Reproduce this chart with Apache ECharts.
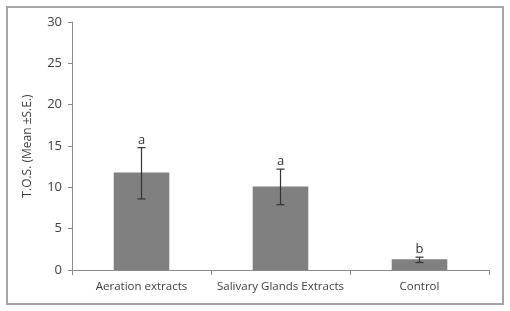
<!DOCTYPE html>
<html>
<head>
<meta charset="utf-8">
<script src="https://cdn.jsdelivr.net/npm/echarts@6/dist/echarts.min.js"></script>
<style>
  html, body { margin: 0; padding: 0; background: #fff; }
  #chart { width: 510px; height: 311px; }
</style>
</head>
<body>
<div id="chart"></div>
<script>
const categories = ['Aeration extracts', 'Salivary Glands Extracts', 'Control'];
const means = [11.8, 10.1, 1.3];
const errLow = [8.6, 7.9, 0.9];
const errHigh = [14.8, 12.2, 1.55];
const letters = ['a', 'a', 'b'];

const chart = echarts.init(document.getElementById('chart'));

const option = {
  backgroundColor: '#fff',
  animation: false,
  textStyle: { fontFamily: 'Open Sans, sans-serif' },
  graphic: [
    {
      type: 'rect',
      shape: { x: 7, y: 7, width: 496, height: 297 },
      style: { fill: 'none', stroke: '#a6a6a6', lineWidth: 2 },
      silent: true,
    },
  ],
  grid: { left: 72, right: 21, top: 22, bottom: 41 },
  xAxis: {
    type: 'category',
    data: categories,
    axisLine: { lineStyle: { color: '#8c8c8c', width: 1 } },
    axisTick: { show: true, alignWithLabel: false, length: 5, lineStyle: { color: '#8c8c8c' } },
    axisLabel: { color: '#404040', fontSize: 11.5, margin: 11, interval: 0, hideOverlap: false },
  },
  yAxis: {
    type: 'value',
    min: 0,
    max: 30,
    interval: 5,
    name: 'T.O.S. (Mean \u00b1S.E.)',
    nameLocation: 'middle',
    nameRotate: 90,
    nameGap: 38,
    nameTextStyle: { color: '#404040', fontSize: 12 },
    axisLine: { show: true, lineStyle: { color: '#8c8c8c' } },
    axisTick: { show: true, length: 4, lineStyle: { color: '#8c8c8c' } },
    axisLabel: { color: '#404040', fontSize: 13, margin: 10 },
    splitLine: { show: false },
  },
  series: [
    {
      type: 'bar',
      data: means,
      barWidth: '40%',
      itemStyle: { color: '#808080' },
    },
    {
      type: 'custom',
      data: categories.map((c, i) => [i, errLow[i], errHigh[i], letters[i]]),
      renderItem: (params, api) => {
        const i = api.value(0);
        const low = api.coord([i, api.value(1)]);
        const high = api.coord([i, api.value(2)]);
        const cap = 4;
        return {
          type: 'group',
          children: [
            { type: 'line', shape: { x1: low[0], y1: low[1], x2: high[0], y2: high[1] }, style: { stroke: '#333', lineWidth: 1.2 } },
            { type: 'line', shape: { x1: low[0] - cap, y1: low[1], x2: low[0] + cap, y2: low[1] }, style: { stroke: '#333', lineWidth: 1.2 } },
            { type: 'line', shape: { x1: high[0] - cap, y1: high[1], x2: high[0] + cap, y2: high[1] }, style: { stroke: '#333', lineWidth: 1.2 } },
            { type: 'text', style: { text: letters[i], x: high[0], y: high[1] - 1, align: 'center', verticalAlign: 'bottom', fill: '#333', fontSize: 13, fontFamily: 'Open Sans, sans-serif' } },
          ],
        };
      },
      z: 10,
    },
  ],
};

chart.setOption(option);
</script>
</body>
</html>
